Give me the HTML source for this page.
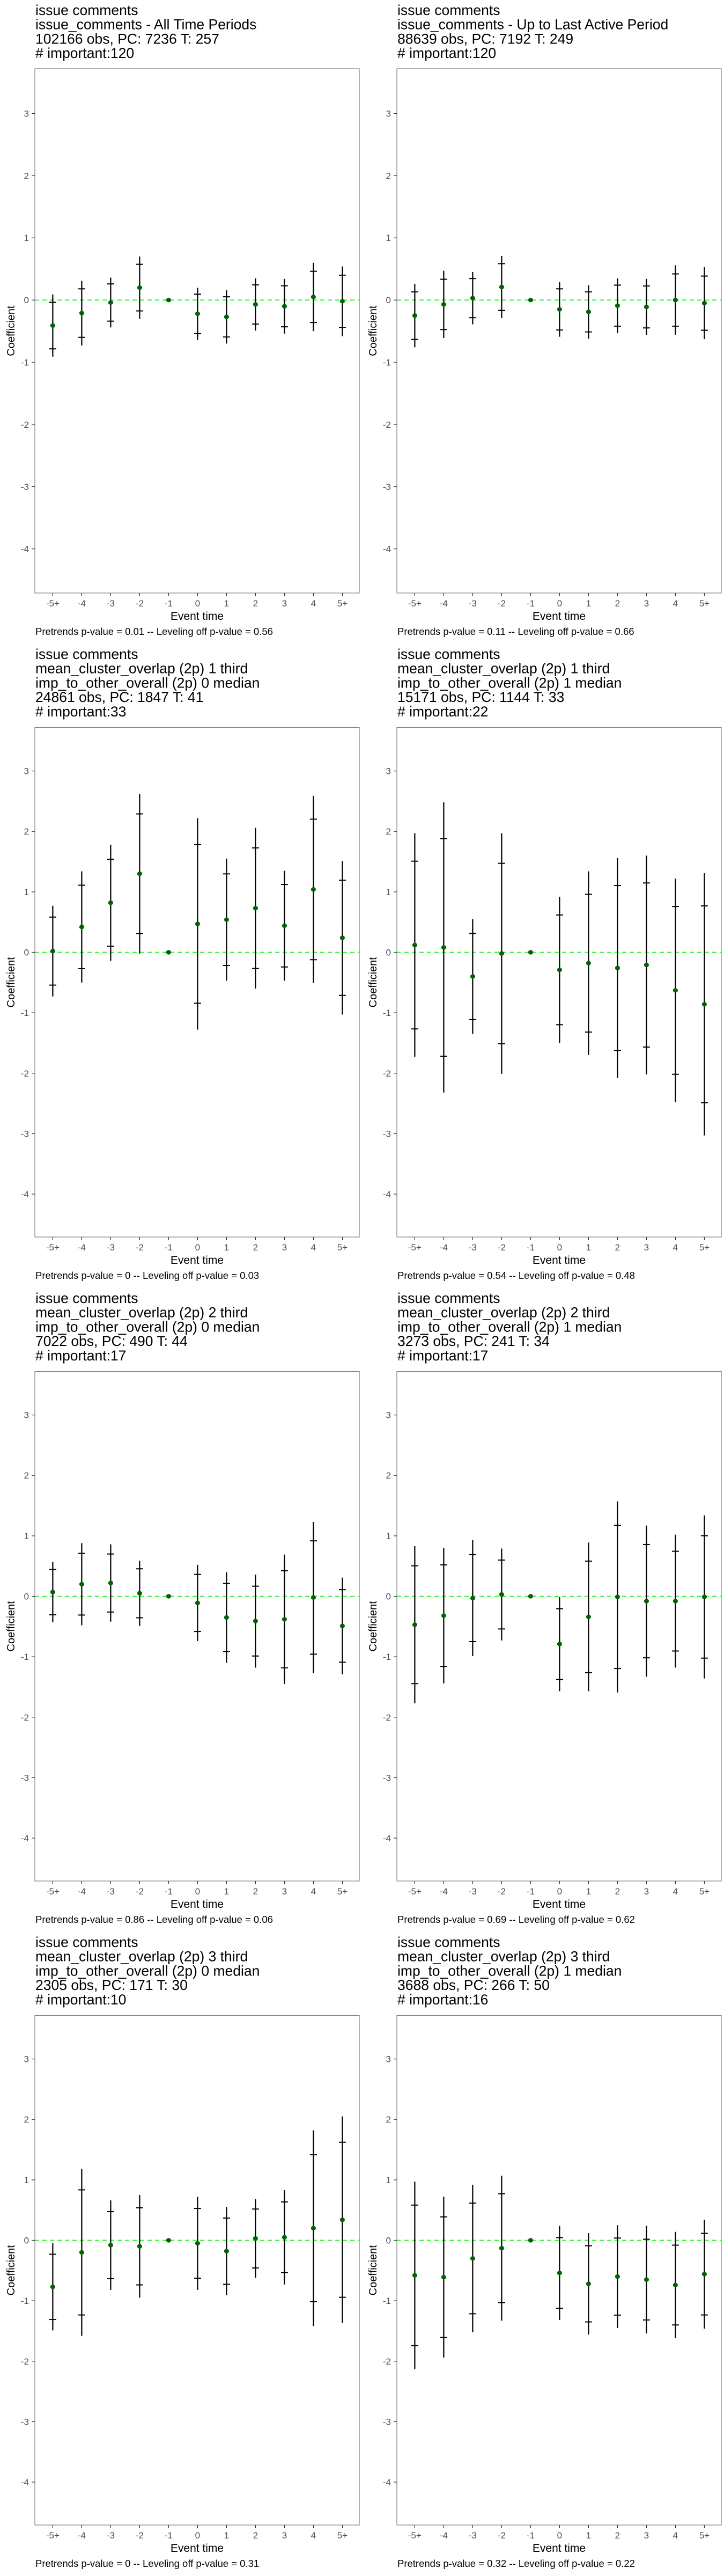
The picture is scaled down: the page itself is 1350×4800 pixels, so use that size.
<!DOCTYPE html>
<html><head><meta charset="utf-8"><style>
html,body{margin:0;padding:0;background:#fff;}
svg{display:block;font-family:"Liberation Sans",Arial,sans-serif;}
</style></head>
<body>
<svg id="fig" width="1350" height="4800" viewBox="0 0 1350 4800" xmlns="http://www.w3.org/2000/svg"></svg>
<script>
// Shared axis data
const categories = ["-5+","-4","-3","-2","-1","0","1","2","3","4","5+"];
const yTicks = [3,2,1,0,-1,-2,-3,-4];
const yDomain = [-4.71, 3.72];

// Panel titles
const titles1 = ["issue comments","issue_comments - All Time Periods","102166 obs, PC: 7236 T: 257","# important:120"];
const titles2 = ["issue comments","issue_comments - Up to Last Active Period","88639 obs, PC: 7192 T: 249","# important:120"];
const titles3 = ["issue comments","mean_cluster_overlap (2p) 1 third","imp_to_other_overall (2p) 0 median","24861 obs, PC: 1847 T: 41","# important:33"];
const titles4 = ["issue comments","mean_cluster_overlap (2p) 1 third","imp_to_other_overall (2p) 1 median","15171 obs, PC: 1144 T: 33","# important:22"];
const titles5 = ["issue comments","mean_cluster_overlap (2p) 2 third","imp_to_other_overall (2p) 0 median","7022 obs, PC: 490 T: 44","# important:17"];
const titles6 = ["issue comments","mean_cluster_overlap (2p) 2 third","imp_to_other_overall (2p) 1 median","3273 obs, PC: 241 T: 34","# important:17"];
const titles7 = ["issue comments","mean_cluster_overlap (2p) 3 third","imp_to_other_overall (2p) 0 median","2305 obs, PC: 171 T: 30","# important:10"];
const titles8 = ["issue comments","mean_cluster_overlap (2p) 3 third","imp_to_other_overall (2p) 1 median","3688 obs, PC: 266 T: 50","# important:16"];

const notes = [
 "Pretrends p-value = 0.01 -- Leveling off p-value = 0.56",
 "Pretrends p-value = 0.11 -- Leveling off p-value = 0.66",
 "Pretrends p-value = 0 -- Leveling off p-value = 0.03",
 "Pretrends p-value = 0.54 -- Leveling off p-value = 0.48",
 "Pretrends p-value = 0.86 -- Leveling off p-value = 0.06",
 "Pretrends p-value = 0.69 -- Leveling off p-value = 0.62",
 "Pretrends p-value = 0 -- Leveling off p-value = 0.31",
 "Pretrends p-value = 0.32 -- Leveling off p-value = 0.22"];

// Estimates and 95% CI half-widths (index 4 = reference period -1)
const est1 = [-0.41,-0.21,-0.04,0.20,0,-0.22,-0.27,-0.07,-0.10,0.05,-0.02];
const ci1  = [0.50,0.52,0.40,0.50,0,0.42,0.43,0.42,0.44,0.55,0.56];
const est2 = [-0.25,-0.07,0.03,0.21,0,-0.15,-0.19,-0.09,-0.11,0.00,-0.05];
const ci2  = [0.51,0.54,0.42,0.50,0,0.44,0.43,0.44,0.45,0.56,0.58];
const est3 = [0.02,0.42,0.82,1.30,0,0.47,0.54,0.73,0.44,1.04,0.24];
const ci3  = [0.75,0.92,0.96,1.32,0,1.75,1.01,1.33,0.91,1.55,1.27];
const est4 = [0.12,0.08,-0.40,-0.02,0,-0.29,-0.18,-0.26,-0.21,-0.63,-0.86];
const ci4  = [1.85,2.40,0.95,1.99,0,1.21,1.52,1.82,1.81,1.85,2.17];
const est5 = [0.07,0.20,0.22,0.05,0,-0.11,-0.35,-0.41,-0.38,-0.02,-0.49];
const ci5  = [0.50,0.68,0.64,0.54,0,0.63,0.75,0.77,1.07,1.25,0.80];
const est6 = [-0.47,-0.32,-0.03,0.03,0,-0.79,-0.34,-0.01,-0.08,-0.08,-0.01];
const ci6  = [1.30,1.12,0.96,0.76,0,0.78,1.23,1.58,1.25,1.10,1.35];
const est7 = [-0.77,-0.20,-0.08,-0.10,0,-0.05,-0.18,0.03,0.05,0.20,0.34];
const ci7  = [0.72,1.38,0.74,0.85,0,0.77,0.73,0.65,0.78,1.62,1.71];
const est8 = [-0.58,-0.61,-0.30,-0.13,0,-0.54,-0.72,-0.60,-0.65,-0.74,-0.56];
const ci8  = [1.55,1.33,1.22,1.20,0,0.78,0.84,0.85,0.89,0.88,0.90];

const panels = [
 {t:titles1,e:est1,c:ci1},{t:titles2,e:est2,c:ci2},
 {t:titles3,e:est3,c:ci3},{t:titles4,e:est4,c:ci4},
 {t:titles5,e:est5,c:ci5},{t:titles6,e:est6,c:ci6},
 {t:titles7,e:est7,c:ci7},{t:titles8,e:est8,c:ci8}];

const NS="http://www.w3.org/2000/svg";
const svg=document.getElementById('fig');
function mk(tag,attrs,parent){const el=document.createElementNS(NS,tag);for(const k in attrs)el.setAttribute(k,attrs[k]);parent.appendChild(el);return el;}

panels.forEach((p,pi)=>{
  const ox=(pi%2)*675, oy=Math.floor(pi/2)*1200;
  const g=mk('g',{transform:`translate(${ox},${oy})`},svg);
  
  
  const boxL=65, boxR=670, boxB=1105;
  const boxT = p.t.length===4 ? 128 : 155.5;
  const xScale=i=>98.4+i*54;
  const yScale=v=>boxB-(v-yDomain[0])/(yDomain[1]-yDomain[0])*(boxB-boxT);
  p.t.forEach((line,li)=>{
    const tx=mk('text',{x:66,y:27.8+li*26.8,'font-size':26.5,fill:'#000'},g);
    tx.textContent=line;
    
    
  });
  const box=mk('rect',{x:boxL,y:boxT,width:boxR-boxL,height:boxB-boxT,fill:'#fff',stroke:'#7f7f7f','stroke-width':1.2},g);
  
  
  yTicks.forEach(v=>{
    const y=yScale(v);
    mk('line',{x1:59,x2:boxL,y1:y,y2:y,stroke:'#333','stroke-width':1.2},g);
    const t=mk('text',{x:54,y:y+6,'font-size':17,fill:'#4d4d4d','text-anchor':'end'},g);
    t.textContent=String(v);
    
    
  });
  categories.forEach((c,i)=>{
    const x=xScale(i);
    mk('line',{x1:x,x2:x,y1:boxB,y2:boxB+6,stroke:'#333','stroke-width':1.2},g);
    const t=mk('text',{x:x,y:1130,'font-size':17,fill:'#4d4d4d','text-anchor':'middle'},g);
    t.textContent=c;
    
    
  });
  const zl=mk('line',{x1:boxL,x2:boxR,y1:yScale(0),y2:yScale(0),stroke:'#22ee22','stroke-width':1.8,'stroke-dasharray':'8 6'},g);
  
  
  p.e.forEach((v,i)=>{
    const x=xScale(i), h=p.c[i];
    if(h>0){
      const bar=mk('line',{x1:x,x2:x,y1:yScale(v+h),y2:yScale(v-h),stroke:'#000','stroke-width':2.2},g);
      
      
      [v+0.75*h, v-0.75*h].forEach(yy=>{
        const cb=mk('line',{x1:x-6.5,x2:x+6.5,y1:yScale(yy),y2:yScale(yy),stroke:'#000','stroke-width':2},g);
        
        
      });
    }
    const pt=mk('ellipse',{cx:x,cy:yScale(v),rx:4.6,ry:4.2,fill:'#006400'},g);
    
    
  });
  const xt=mk('text',{x:(boxL+boxR)/2,y:1155,'font-size':21,fill:'#000','text-anchor':'middle'},g);
  xt.textContent='Event time';
  
  
  const cy=(boxT+boxB)/2;
  const yt=mk('text',{x:0,y:0,'font-size':20,fill:'#000','text-anchor':'middle',transform:`translate(27,${cy}) rotate(-90)`},g);
  yt.textContent='Coefficient';
  
  
  const nt=mk('text',{x:66,y:1183,'font-size':18.5,fill:'#000'},g);
  nt.textContent=notes[pi];
  
  
});
</script>
</body></html>
